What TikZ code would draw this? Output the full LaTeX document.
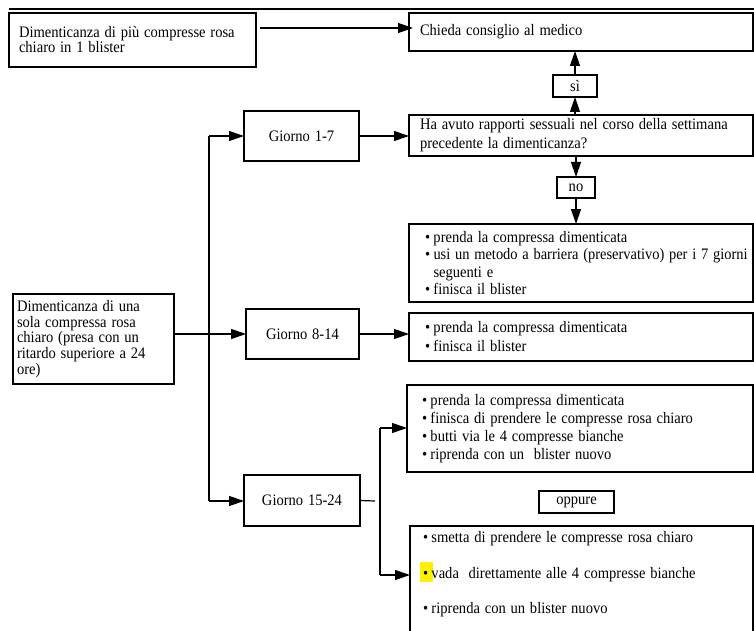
\documentclass[tikz,border=0pt]{standalone}
\usepackage{fontspec}
\usepackage{graphicx}
\setmainfont{Liberation Serif}[FakeStretch=0.91]
\usetikzlibrary{arrows.meta}
\newcommand{\bul}{\makebox[8.5pt][l]{\textbullet}}
\newcommand{\ff}[1]{\fontsize{16}{#1}\selectfont}
\newcommand{\ws}{\spaceskip=4.8pt\relax}
\begin{document}
\begin{tikzpicture}[x=1pt,y=-1pt,
  every node/.style={font=\ff{17.3}, outer sep=0pt},
  box/.style={draw, line width=1.2pt, anchor=north west, align=left, inner ysep=0pt},
  cbox/.style={draw, line width=1.2pt, anchor=north west, align=center, inner sep=0pt},
  arr/.style={line width=1.2pt, -{Triangle[length=15pt,width=10pt]}},
  ln/.style={line width=1.2pt}]
\useasboundingbox (0,0) rectangle (754,631);
% top rule
\draw[ln] (9,9) -- (754,9);
% boxes
\node[box, minimum width=247pt, minimum height=54pt, text width=227pt, inner xsep=10pt,
  font=\ff{15}] (A) at (9,13)
  {\ws\mbox{Dimenticanza di più compresse rosa}\\chiaro in 1 blister};
\node[box, minimum width=344pt, minimum height=38pt, text width=322pt, inner xsep=11pt] (B) at (409,13)
  {\ws Chieda consiglio al medico};
\node[cbox, minimum width=44pt, minimum height=22pt] (si) at (553,75) {sì};
\node[box, minimum width=344pt, minimum height=41pt, text width=322pt, inner xsep=11pt,
  font=\ff{19}] (Q) at (409,115)
  {\ws\mbox{Ha avuto rapporti sessuali nel corso della settimana}\\precedente la dimenticanza?};
\node[cbox, minimum width=38pt, minimum height=21pt] (no) at (557,177) {no};
\node[box, minimum width=344pt, minimum height=78pt, text width=312pt, inner xsep=16pt] (C) at (409,224)
  {\ws\mbox{\bul prenda la compressa dimenticata}\\
   \mbox{\bul\resizebox{314pt}{\height}{usi un metodo a barriera (preservativo) per i 7 giorni}}\\
   \mbox{\hspace*{8.5pt}seguenti e}\\
   \mbox{\bul finisca il blister}};
\node[cbox, minimum width=115pt, minimum height=50pt] (g1) at (244,111) {\ws Giorno 1-7};
\node[box, minimum width=161pt, minimum height=90pt, text width=153pt, inner xsep=4pt,
  font=\ff{15.8}] (D) at (13,294)
  {\ws Dimenticanza di una\\sola compressa rosa\\chiaro (presa con un\\ritardo superiore a 24\\ore)};
\node[cbox, minimum width=113pt, minimum height=50pt] (g2) at (246,309) {\ws Giorno 8-14};
\node[box, minimum width=344pt, minimum height=48pt, text width=312pt, inner xsep=16pt,
  font=\ff{19}] (E) at (409,313)
  {\ws\mbox{\bul prenda la compressa dimenticata}\\\mbox{\bul finisca il blister}};
\node[box, minimum width=346pt, minimum height=87pt, text width=316pt, inner xsep=15pt,
  font=\ff{18}] (F) at (407,385)
  {\ws\mbox{\bul prenda la compressa dimenticata}\\
   \mbox{\bul finisca di prendere le compresse rosa chiaro}\\
   \mbox{\bul butti via le 4 compresse bianche}\\
   \mbox{\bul riprenda con un\ \ blister nuovo}};
\node[cbox, minimum width=116pt, minimum height=51pt] (g3) at (244,475) {\ws Giorno 15-24};
\node[cbox, minimum width=75pt, minimum height=22pt] (op) at (539,491) {oppure};
\node[draw, line width=1.2pt, anchor=north west, minimum width=343pt, minimum height=120pt, inner sep=0pt] (G) at (410,526) {};
\fill[yellow] (420,562) rectangle (433,582);
\node[anchor=north west, inner sep=0pt, align=left, text width=320pt] (Gt) at ([xshift=13pt,yshift=-5.5pt]G.north west)
  {\ws\mbox{\bul smetta di prendere le compresse rosa chiaro}\\[18.5pt]
   \mbox{\bul vada\ \ direttamente alle 4 compresse bianche}\\[18pt]
   \mbox{\bul riprenda con un blister nuovo}};
% connectors
\draw[arr] ([xshift=4pt,yshift=12pt]A.east) -- ([xshift=4pt,yshift=12pt]A.east -| B.west);
\draw[arr] (si.south |- Q.north) -- (si.south);
\draw[arr] (si.north) -- (si.north |- B.south);
\draw[arr] (no.north |- Q.south) -- (no.north);
\draw[arr] (no.south) -- (no.south |- C.north);
\coordinate (t1) at (209,136);
\coordinate (t3) at (209,501);
\draw[ln] (t1) -- (t3);
\draw[arr] (t1) -- (t1 -| g1.west);
\draw[arr] (t3) -- (t3 -| g3.west);
\draw[arr] (D.east |- g2.west) -- (g2.west);
\draw[arr] (g1.east) -- (g1.east -| Q.west);
\draw[arr] (g2.east) -- (g2.east -| E.west);
\coordinate (s1) at (375,501);
\draw[ln] (g3.east) -- (s1);
\coordinate (v1) at (380,428);
\coordinate (v2) at (380,575);
\draw[ln] (v1) -- (v2);
\draw[arr] (v1) -- (v1 -| F.west);
\draw[arr] (v2) -- (v2 -| G.west);
\end{tikzpicture}
\end{document}
